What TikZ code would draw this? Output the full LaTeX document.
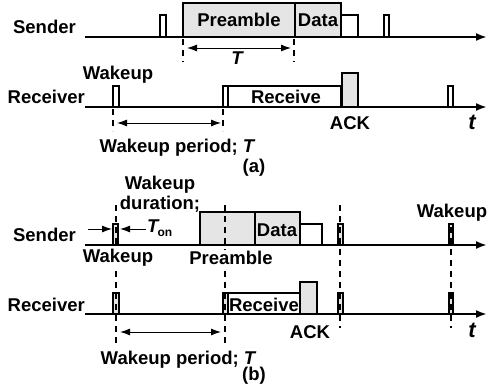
\documentclass[tikz,border=0pt]{standalone}
\usepackage{fontspec}
\setmainfont{Liberation Sans}
\usetikzlibrary{arrows.meta}
\tikzset{
  lbl/.style={font=\bfseries\fontsize{18.5}{21}\selectfont, inner sep=1pt},
  lblw/.style={lbl, fill=white},
  axis/.style={line width=2pt, -{Latex[length=11pt,width=8pt]}},
  wbox/.style={draw, line width=1.5pt, fill=white},
  gbox/.style={draw, line width=1.5pt, fill=black!10},
  dline/.style={line width=1.5pt, dash pattern=on 6pt off 5pt},
  dim/.style={line width=1pt, {Latex[length=10pt,width=7pt]}-{Latex[length=10pt,width=7pt]}},
  sarr/.style={line width=1pt, -{Latex[length=10pt,width=7pt]}}
}
\begin{document}
\begin{tikzpicture}[x=1pt,y=-1pt]
\useasboundingbox (0,0) rectangle (487,389);
% ---------------- (a) ----------------
\coordinate (aS0) at (85,37); \coordinate (aS1) at (487,37);
\coordinate (aR0) at (85,107); \coordinate (aR1) at (487,107);
\draw[wbox] (160,15) rectangle (166,37);
\draw[gbox] (183,3) rectangle (295,37);
\draw[gbox] (295,3) rectangle (341,37);
\draw[wbox] (341,15) rectangle (358,37);
\draw[wbox] (384,15) rectangle (389,37);
\draw[wbox] (113,86) rectangle (119,107);
\draw[wbox] (223,86) rectangle (228,107);
\draw[wbox] (228,86) rectangle (341,107);
\draw[gbox] (342,73) rectangle (358,107);
\draw[wbox] (448,86) rectangle (453,107);
\draw[axis] (aS0) -- (aS1);
\draw[axis] (aR0) -- (aR1);
\coordinate (ad1a) at (183,39); \coordinate (ad1b) at (183,62);
\coordinate (ad2a) at (294,39); \coordinate (ad2b) at (294,62);
\coordinate (ad3a) at (113,109); \coordinate (ad3b) at (113,131);
\coordinate (ad4a) at (223,109); \coordinate (ad4b) at (223,131);
\draw[dline] (ad1a) -- (ad1b);
\draw[dline] (ad2a) -- (ad2b);
\draw[dline] (ad3a) -- (ad3b);
\draw[dline] (ad4a) -- (ad4b);
\coordinate (aT0) at (187,48); \coordinate (aT1) at (291,48);
\draw[dim] (aT0) -- (aT1);
\coordinate (aP0) at (117,123); \coordinate (aP1) at (221,123);
\draw[dim] (aP0) -- (aP1);
\node[lbl, anchor=east] (asend) at (77,27) {Sender};
\node[lbl] (apre) at (239,20) {Preamble};
\node[lbl] (adata) at (318,20) {Data};
\node[lbl] (aT) at (237,58) {\itshape T};
\node[lbl] (awake) at (118,75) {Wakeup};
\node[lbl, anchor=east] (arecv) at (86,97) {Receiver};
\node[lbl] (arec) at (286,97) {Receive};
\node[lbl] (aack) at (350,123) {ACK};
\node[lbl, font=\bfseries\itshape\fontsize{22}{24}\selectfont] (at) at (472,122) {t};
\node[lbl] (aper) at (177,148) {Wakeup period; \itshape T};
\node[lbl] (acap) at (254,168) {(a)};
% ---------------- (b) ----------------
\coordinate (bS0) at (85,245); \coordinate (bS1) at (487,245);
\coordinate (bR0) at (85,314); \coordinate (bR1) at (487,314);
\draw[gbox] (113,224) rectangle (118,245);
\draw[gbox] (200,212) rectangle (255,245);
\draw[gbox] (255,212) rectangle (300,245);
\draw[wbox] (300,224) rectangle (322,245);
\draw[gbox] (338,224) rectangle (343,245);
\draw[gbox] (449,224) rectangle (453,245);
\draw[gbox] (113,293) rectangle (119,314);
\draw[gbox] (223,293) rectangle (228,314);
\draw[wbox] (228,293) rectangle (300,314);
\draw[gbox] (300,282) rectangle (317,314);
\draw[gbox] (338,293) rectangle (343,314);
\draw[gbox] (449,293) rectangle (453,314);
\draw[axis] (bS0) -- (bS1);
\draw[axis] (bR0) -- (bR1);
\coordinate (bd1a) at (116,205); \coordinate (bd1b) at (116,343);
\coordinate (bd2a) at (225,205); \coordinate (bd2b) at (225,343);
\coordinate (bd3a) at (340,205); \coordinate (bd3b) at (340,328);
\coordinate (bd4a) at (451,205); \coordinate (bd4b) at (451,328);
\draw[dline] (bd1a) -- (bd1b);
\draw[dline] (bd2a) -- (bd2b);
\draw[dline] (bd3a) -- (bd3b);
\draw[dline] (bd4a) -- (bd4b);
\coordinate (bP0) at (120,332); \coordinate (bP1) at (221,332);
\draw[dim] (bP0) -- (bP1);
\coordinate (bL0) at (88,229); \coordinate (bL1) at (112,229);
\coordinate (bR2) at (146,229); \coordinate (bR3) at (120,229);
\draw[sarr] (bL0) -- (bL1);
\draw[sarr] (bR2) -- (bR3);
\node[lbl, align=center] (bdur) at (160,194) {Wakeup\\[-1pt]duration;};
\node[lbl, anchor=west] (bton) at (146,228) {\itshape T\kern-1pt\raisebox{-4pt}{\upshape\fontsize{12}{12}\selectfont on}};
\node[lbl, anchor=east] (bsend) at (77,235) {Sender};
\node[lblw] (bwake) at (118,258) {Wakeup};
\node[lblw] (bpre) at (231,258) {Preamble};
\node[lbl] (bdata) at (277,230) {Data};
\node[lblw] (bwake2) at (452,213) {Wakeup};
\node[lbl, anchor=east] (brecv) at (86,305) {Receiver};
\node[lbl] (brec) at (264,305) {Receive};
\node[lbl] (back) at (310,332) {ACK};
\node[lbl, font=\bfseries\itshape\fontsize{22}{24}\selectfont] (bt) at (472,330) {t};
\node[lbl] (bper) at (178,360) {Wakeup period; \itshape T};
\node[lbl] (bcap) at (254,376) {(b)};
\end{tikzpicture}
\end{document}
